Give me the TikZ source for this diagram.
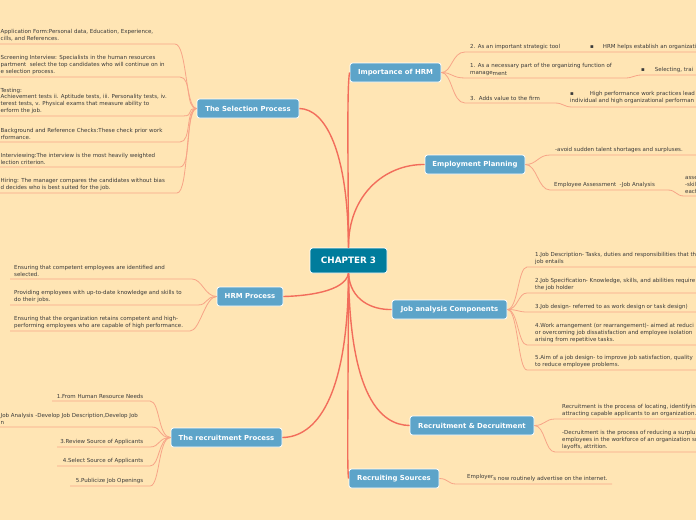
\documentclass[tikz,border=0pt]{standalone}
\usepackage{fontspec}
\setmainfont{DejaVu Sans}
\usetikzlibrary{calc}
\definecolor{bg}{HTML}{FFE5B4}
\definecolor{nodeblue}{HTML}{5DA4C9}
\definecolor{centerblue}{HTML}{007C9C}
\definecolor{mainline}{HTML}{F26D5B}
\definecolor{leafline}{HTML}{F7A487}
\definecolor{txt}{HTML}{3A3A3A}
\begin{document}
\begin{tikzpicture}[x=1pt,y=-1pt,
  topic/.style={draw=white, line width=0.8pt, rounded corners=2.5pt, fill=nodeblue, text=white,
    font=\bfseries\fontsize{6.9}{8}\selectfont, minimum height=19pt, inner sep=0pt},
  mainln/.style={draw=mainline, line width=1.4pt},
  leafln/.style={draw=leafline, line width=0.8pt},
  lt/.style={text=txt, font=\fontsize{5.5}{6.7}\selectfont, align=left, inner sep=0pt, anchor=south west},
  rt/.style={text=txt, font=\fontsize{5.5}{6.7}\selectfont, align=right, inner sep=0pt, anchor=south east}]
\fill[bg] (0,0) rectangle (696,520);
\useasboundingbox (0,0) rectangle (696,520);

% ---------- topic nodes
\node[topic, minimum width=77pt, minimum height=25pt, fill=centerblue, font=\bfseries\fontsize{8.8}{10}\selectfont] (c) at (348.5,260.5) {CHAPTER 3};
\node[topic, minimum width=91pt] (imp) at (395.5,72.5) {Importance of HRM};
\node[topic, minimum width=102pt] (sel) at (248,108.5) {The Selection Process};
\node[topic, minimum width=100pt] (emp) at (475,164.5) {Employment Planning};
\node[topic, minimum width=66pt] (hrm) at (250,296.5) {HRM Process};
\node[topic, minimum width=115pt] (job) at (449.5,309.5) {Job analysis Components};
\node[topic, minimum width=111pt] (rec) at (226.5,437.5) {The recruitment Process};
\node[topic, minimum width=124pt] (dec) at (472,425.5) {Recruitment \& Decruitment};
\node[topic, minimum width=90pt] (src) at (394,478.5) {Recruiting Sources};

% ---------- main connectors
\draw[mainln] (c.north) .. controls (348,150) and (347,85) .. (imp.west);
\draw[mainln] (c.north) .. controls (348,150) and (325,109) .. (sel.east);
\draw[mainln] (c.north) .. controls (348,195) and (385,164) .. (emp.west);
\draw[mainln] (c.south) .. controls (345,292) and (305,296) .. (hrm.east);
\draw[mainln] (c.south) .. controls (350,300) and (372,310) .. (job.west);
\draw[mainln] (c.south) .. controls (348,400) and (315,437) .. (rec.east);
\draw[mainln] (c.south) .. controls (350,395) and (380,425) .. (dec.west);
\draw[mainln] (c.south) .. controls (348,420) and (347,470) .. (src.west);

% ---------- The Selection Process leaves
\coordinate (s1a) at (0,44);  \coordinate (s1b) at (175,44);
\coordinate (s2a) at (0,77);  \coordinate (s2b) at (180,77);
\coordinate (s3a) at (0,116); \coordinate (s3b) at (183,116);
\coordinate (s4a) at (0,142); \coordinate (s4b) at (180,142);
\coordinate (s5a) at (0,167); \coordinate (s5b) at (180,167);
\coordinate (s6a) at (0,193); \coordinate (s6b) at (177,193);
\foreach \i in {1,...,6}{
  \draw[leafln] (s\i a) -- (s\i b) .. controls ($(s\i b)+(12,0)$) and (185,108.5) .. (sel.west);
}
\node[lt] (s1) at (0.5,41.5) {Application Form:Personal data, Education, Experience,\\cills, and References.};
\node[lt] (s2) at (0.5,74.5) {Screening Interview: Specialists in the human resources\\partment \ select the top candidates who will continue on in\\e selection process.};
\node[lt] (s3) at (0.5,113.5) {Testing:\\Achievement tests ii. Aptitude tests, iii. Personality tests, iv.\\terest tests, v. Physical exams that measure ability to\\erform the job.};
\node[lt] (s4) at (0.5,139.5) {Background and Reference Checks:These check prior work\\rformance.};
\node[lt] (s5) at (0.5,164.5) {Interviewing:The interview is the most heavily weighted\\lection criterion.};
\node[lt] (s6) at (0.5,190.5) {Hiring: The manager compares the candidates without bias\\d decides who is best suited for the job.};

% ---------- HRM Process leaves
\coordinate (h1a) at (10,279); \coordinate (h1b) at (192,279);
\coordinate (h2a) at (10,305); \coordinate (h2b) at (198,305);
\coordinate (h3a) at (10,331); \coordinate (h3b) at (190,331);
\foreach \i in {1,2,3}{
  \draw[leafln] (h\i a) -- (h\i b) .. controls ($(h\i b)+(10,0)$) and (205,296.5) .. (hrm.west);
}
\node[lt] (h1) at (14,276.5) {Ensuring that competent employees are identified and\\selected.};
\node[lt] (h2) at (14,302.5) {Providing employees with up-to-date knowledge and skills to\\do their jobs.};
\node[lt] (h3) at (14,328.5) {Ensuring that the organization retains competent and high-\\performing employees who are capable of high performance.};

% ---------- Recruitment Process leaves
\coordinate (r1a) at (52,401); \coordinate (r1b) at (150,401);
\coordinate (r2a) at (0,427);  \coordinate (r2b) at (152,427);
\coordinate (r3a) at (57,447); \coordinate (r3b) at (150,447);
\coordinate (r4a) at (57,466); \coordinate (r4b) at (150,466);
\coordinate (r5a) at (70,486); \coordinate (r5b) at (150,486);
\foreach \i in {1,...,5}{
  \draw[leafln] (r\i a) -- (r\i b) .. controls ($(r\i b)+(10,0)$) and (158,437.5) .. (rec.west);
}
\node[rt] (r1) at (143.5,398.5) {1.From Human Resource Needs};
\node[lt] (r2) at (0.5,424.5) {Job Analysis -Develop Job Description,Develop Job\\n};
\node[rt] (r3) at (143.5,444.5) {3.Review Source of Applicants};
\node[rt] (r4) at (143.5,463.5) {4.Select Source of Applicants};
\node[rt] (r5) at (143.5,483.5) {5.Publicize Job Openings};

% ---------- Importance of HRM leaves
\coordinate (i1a) at (465,52);  \coordinate (i1b) at (696,52);
\coordinate (i2a) at (465,78);  \coordinate (i2b) at (625,78); \coordinate (i2c) at (642,75); \coordinate (i2d) at (696,75);
\coordinate (i3a) at (465,103); \coordinate (i3b) at (555,103); \coordinate (i3c) at (572,107); \coordinate (i3d) at (696,107);
\draw[leafln] (imp.east) .. controls (452,72.5) and (452,52) .. (i1a) -- (i1b);
\draw[leafln] (imp.east) .. controls (452,72.5) and (452,78) .. (i2a) -- (i2b) .. controls (633,78) and (634,75) .. (i2c) -- (i2d);
\draw[leafln] (imp.east) .. controls (452,72.5) and (452,103) .. (i3a) -- (i3b) .. controls (563,103) and (564,107) .. (i3c) -- (i3d);
\node[lt] (i1) at (470,49.5) {2. As an important strategic tool};
\node[lt] (i1x) at (590,49.5) {▪\hspace{9pt}HRM helps establish an organizatio};
\node[lt] (i2) at (470,75.5) {1. As a necessary part of the organizing function of\\manage\raisebox{-1pt}{ment}};
\node[lt] (i2x) at (641,72.5) {▪\hspace{10pt}Selecting, trai};
\node[lt] (i3) at (470,100.5) {3.\ \ Adds value to the firm};
\node[lt] (i3x) at (570,103.5) {▪\hspace{16pt}High performance work practices lead t\\individual and high organizational performan};

% ---------- Employment Planning leaves
\coordinate (e1a) at (550,155); \coordinate (e1b) at (696,155);
\coordinate (e2a) at (550,190); \coordinate (e2b) at (668,190); \coordinate (e2c) at (684,196); \coordinate (e2d) at (696,196);
\draw[leafln] (emp.east) .. controls (537,164.5) and (538,155) .. (e1a) -- (e1b);
\draw[leafln] (emp.east) .. controls (537,164.5) and (538,190) .. (e2a) -- (e2b) .. controls (676,190) and (676,196) .. (e2c) -- (e2d);
\node[lt] (e1) at (555,152.5) {-avoid sudden talent shortages and surpluses.};
\node[lt] (e2) at (554,187.5) {Employee Assessment \ -Job Analysis};
\node[lt] (e2x) at (685,193.5) {asse\\-skil\\each};

% ---------- Job analysis leaves
\foreach \i/\yy in {1/267,2/293,3/312,4/345,5/370}{
  \coordinate (j\i a) at (527,\yy); \coordinate (j\i b) at (696,\yy);
  \draw[leafln] (job.east) .. controls (518,309.5) and (518,\yy) .. (j\i a) -- (j\i b);
}
\node[lt] (j1) at (535,264.5) {1.Job Description- Tasks, duties and responsibilities that th\\job entails};
\node[lt] (j2) at (535,290.5) {2.Job Specification- Knowledge, skills, and abilities require\\the job holder};
\node[lt] (j3) at (535,309.5) {3.Job design- referred to as work design or task design)};
\node[lt] (j4) at (535,342.5) {4.Work arrangement (or rearrangement)- aimed at reduci\\or overcoming job dissatisfaction and employee isolation\\arising from repetitive tasks.};
\node[lt] (j5) at (535,367.5) {5.Aim of a job design- to improve job satisfaction, quality\\to reduce employee problems.};

% ---------- Recruitment & Decruitment leaves
\coordinate (d1a) at (555,419); \coordinate (d1b) at (696,419);
\coordinate (d2a) at (555,452); \coordinate (d2b) at (696,452);
\draw[leafln] (dec.east) .. controls (545,425.5) and (545,419) .. (d1a) -- (d1b);
\draw[leafln] (dec.east) .. controls (545,425.5) and (545,452) .. (d2a) -- (d2b);
\node[lt] (d1) at (562,416.5) {Recruitment is the process of locating, identifying\\attracting capable applicants to an organization.};
\node[lt] (d2) at (562,449.5) {-Decruitment is the process of reducing a surplu\\employees in the workforce of an organization su\\layoffs, attrition.};

% ---------- Recruiting Sources leaf
\coordinate (o1a) at (456,484); \coordinate (o1b) at (612,484);
\draw[leafln] (src.east) .. controls (448,478.5) and (448,484) .. (o1a) -- (o1b);
\node[lt] (o1) at (467,481.5) {Employer\raisebox{-1.2pt}{s now routinely advertise on the internet.}};
\end{tikzpicture}
\end{document}
